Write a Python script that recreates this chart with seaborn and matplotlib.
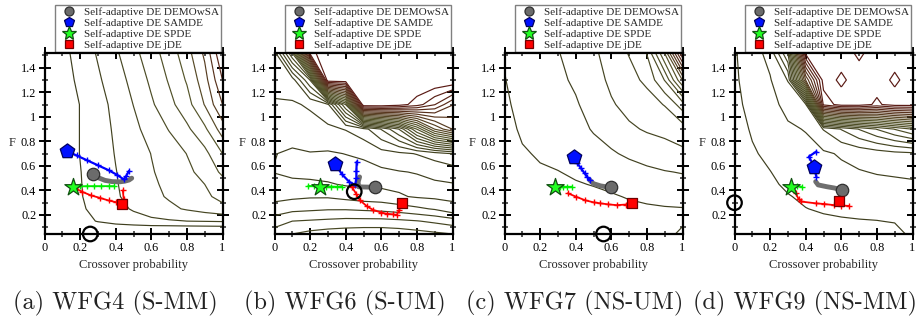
import numpy as np
import pandas as pd
import matplotlib
matplotlib.use("Agg")
import matplotlib.pyplot as plt
import seaborn as sns
from matplotlib.colors import LinearSegmentedColormap
from matplotlib.lines import Line2D
from matplotlib.ticker import MultipleLocator, FuncFormatter

# ---------------- data ----------------
CAPTIONS = ["(a) WFG4 (S-MM)", "(b) WFG6 (S-UM)", "(c) WFG7 (NS-UM)", "(d) WFG9 (NS-MM)"]
METHODS = ["Self-adaptive DE DEMOwSA", "Self-adaptive DE SAMDE",
           "Self-adaptive DE SPDE", "Self-adaptive DE jDE"]

# contour grid (crossover probability columns, F rows)
GRID_X = [0.0, 0.1, 0.2, 0.3, 0.4, 0.5, 0.6, 0.7, 0.8, 0.9, 1.0]
GRID_F = [0.045, 0.15, 0.25, 0.35, 0.45, 0.55, 0.7, 0.9, 1.1, 1.3, 1.52]

GRID_A = [
    [0, 0.1, 0.2, 0.0, -0.2, -0.4, -0.5, -0.6, -0.65, -0.65, -0.65],
    [0, 0.3, 0.7, 1.05, 1.35, 1.6, 1.8, 1.9, 2.0, 2.05, 2.1],
    [0, 0.4, 0.85, 1.3, 1.7, 2.1, 2.45, 2.8, 3.1, 3.4, 3.7],
    [0, 0.45, 0.93, 1.4, 1.88, 2.33, 2.75, 3.1, 3.45, 3.8, 4.3],
    [0, 0.47, 0.95, 1.45, 1.93, 2.4, 2.85, 3.2, 3.6, 4.0, 4.6],
    [0, 0.48, 0.97, 1.47, 1.97, 2.45, 2.92, 3.35, 3.8, 4.3, 5.2],
    [0, 0.5, 1.02, 1.5, 2.05, 2.5, 3.02, 3.5, 4.02, 4.7, 6.0],
    [0, 0.5, 1.02, 1.55, 2.15, 2.75, 3.4, 4.05, 4.8, 5.8, 7.5],
    [0, 0.5, 1.02, 1.6, 2.3, 3.02, 3.85, 4.7, 5.6, 7.05, 9.0],
    [0, 0.6, 1.2, 1.85, 2.55, 3.3, 4.2, 5.1, 6.1, 7.6, 10.0],
    [0, 0.7, 1.4, 2.1, 2.85, 3.7, 4.6, 5.45, 6.6, 8.2, 11.0],
]
GRID_B = [
    [4.5, 5.0, 5.3, 5.5, 5.6, 5.7, 5.7, 5.6, 5.4, 5.2, 5.0],
    [3.5, 4.0, 4.1, 4.2, 4.3, 4.3, 4.3, 4.2, 4.05, 3.8, 3.5],
    [2.4, 2.7, 2.8, 2.9, 2.9, 2.8, 2.7, 2.5, 2.2, 1.9, 1.3],
    [1.7, 1.8, 1.9, 1.9, 1.7, 1.5, 1.4, 1.1, 0.9, 0.8, 0.8],
    [1.3, 1.2, 1.2, 1.1, 0.9, 0.8, 0.8, 0.8, 0.75, 0.9, 0.95],
    [0.97, 0.8, 0.7, 0.6, 0.6, 0.6, 0.8, 0.95, 1.05, 1.2, 1.4],
    [1.03, 0.85, 0.95, 0.9, 1.02, 1.2, 1.6, 1.8, 2.05, 2.5, 3.05],
    [1.6, 1.5, 1.7, 1.8, 2.05, 2.6, 4.05, 6.05, 10.05, 14.05, 16.05],
    [1.9, 1.9, 2.1, 2.8, 8.05, 23, 23, 22.5, 21.5, 20.05, 18.05],
    [2.3, 2.5, 6.05, 23, 23, 23, 23, 23, 23, 23, 23],
    [2.6, 8.05, 21.5, 23, 23, 23, 23, 23, 23, 23, 23],
]
GRID_C = [
    [0.2, 0.3, 0.35, 0.4, 0.45, 0.5, 0.55, 0.6, 0.65, 0.7, 1.2],
    [0.2, 0.35, 0.4, 0.45, 0.5, 0.6, 0.65, 0.7, 0.75, 0.8, 0.85],
    [0.25, 0.4, 0.5, 0.55, 0.65, 0.7, 0.78, 0.85, 0.9, 0.95, 0.97],
    [0.3, 0.5, 0.6, 0.7, 0.8, 0.85, 0.93, 1.05, 1.15, 1.2, 1.25],
    [0.35, 0.6, 0.75, 0.85, 0.95, 1.03, 1.15, 1.3, 1.5, 1.6, 1.7],
    [0.4, 0.7, 0.9, 0.98, 1.1, 1.2, 1.4, 1.65, 1.8, 1.95, 2.05],
    [0.5, 0.9, 1.1, 1.2, 1.35, 1.55, 1.9, 2.15, 2.4, 2.6, 2.8],
    [0.65, 1.15, 1.3, 1.45, 1.6, 2.1, 2.4, 2.85, 3.1, 3.25, 3.5],
    [0.8, 1.35, 1.5, 1.65, 1.9, 2.4, 2.9, 3.3, 3.6, 4.05, 5.5],
    [0.95, 1.55, 1.7, 1.8, 2.15, 2.6, 3.2, 3.7, 4.2, 6.05, 10.05],
    [1.1, 1.75, 1.85, 1.95, 2.4, 2.8, 3.5, 4.05, 5.05, 9.05, 16.05],
]
GRID_D = [
    [0.6, 0.8, 0.9, 0.95, 0.7, 0.6, 0.6, 0.6, 0.65, 0.7, 1.2],
    [0.5, 0.7, 0.8, 0.85, 0.85, 0.85, 0.9, 0.95, 0.98, 1.05, 1.1],
    [0.4, 0.6, 0.7, 0.8, 0.98, 1.1, 1.2, 1.25, 1.3, 1.35, 1.4],
    [0.3, 0.55, 0.72, 0.95, 1.15, 1.3, 1.4, 1.5, 1.55, 1.6, 1.65],
    [0.3, 0.6, 0.85, 1.15, 1.3, 1.5, 1.6, 1.75, 1.8, 1.85, 1.9],
    [0.35, 0.75, 0.98, 1.3, 1.5, 1.65, 1.8, 1.95, 2.05, 2.1, 2.15],
    [0.45, 0.9, 1.2, 1.55, 1.7, 1.85, 2.1, 2.3, 2.5, 2.7, 2.8],
    [0.6, 1.1, 1.45, 1.85, 2.05, 3.05, 4.05, 5.05, 6.05, 7.05, 8.05],
    [0.75, 1.3, 1.7, 2.3, 2.8, 20.3, 21.5, 21.5, 20.8, 21.5, 21.5],
    [0.85, 1.45, 1.93, 3.05, 15.05, 21.5, 20.8, 21.5, 21.5, 20.8, 21.5],
    [0.9, 1.6, 2.3, 6.05, 21.3, 21.5, 21.5, 20.8, 21.5, 21.5, 21.5],
]
LEVEL_MAX = [11, 22, 16, 21]

# trajectories (x = crossover probability, F = scale factor)
A_DEMO_X = [0.274, 0.30, 0.34, 0.38, 0.42, 0.45, 0.475, 0.49]
A_DEMO_F = [0.535, 0.505, 0.482, 0.472, 0.47, 0.475, 0.485, 0.50]
A_SAMDE_X = [0.128, 0.18, 0.24, 0.30, 0.36, 0.41, 0.445, 0.46, 0.475]
A_SAMDE_F = [0.72, 0.685, 0.645, 0.605, 0.565, 0.525, 0.49, 0.52, 0.56]
A_SPDE_X = [0.162, 0.20, 0.24, 0.28, 0.32, 0.36, 0.39]
A_SPDE_F = [0.43, 0.433, 0.435, 0.435, 0.435, 0.435, 0.435]
A_JDE_X = [0.44, 0.445, 0.43, 0.40, 0.36, 0.31, 0.26, 0.21, 0.17]
A_JDE_F = [0.40, 0.33, 0.30, 0.305, 0.318, 0.34, 0.36, 0.39, 0.42]

B_DEMO_X = [0.478, 0.47, 0.472, 0.50, 0.53, 0.566]
B_DEMO_F = [0.51, 0.47, 0.43, 0.428, 0.427, 0.426]
B_SAMDE_X = [0.462, 0.46, 0.46, 0.453, 0.42, 0.38, 0.341]
B_SAMDE_F = [0.635, 0.56, 0.50, 0.445, 0.47, 0.53, 0.616]
B_SPDE_X = [0.19, 0.22, 0.257, 0.29, 0.32, 0.35, 0.378]
B_SPDE_F = [0.437, 0.435, 0.43, 0.432, 0.432, 0.43, 0.43]
B_JDE_X = [0.434, 0.46, 0.48, 0.52, 0.556, 0.60, 0.631, 0.665, 0.687, 0.70, 0.715]
B_JDE_F = [0.43, 0.37, 0.32, 0.27, 0.24, 0.22, 0.21, 0.205, 0.20, 0.24, 0.295]

C_DEMO_X = [0.478, 0.50, 0.54, 0.57, 0.597]
C_DEMO_F = [0.486, 0.455, 0.437, 0.43, 0.426]
C_SAMDE_X = [0.388, 0.41, 0.43, 0.45, 0.465, 0.478]
C_SAMDE_F = [0.67, 0.62, 0.58, 0.54, 0.51, 0.486]
C_SPDE_X = [0.285, 0.31, 0.33, 0.35, 0.378]
C_SPDE_F = [0.426, 0.43, 0.43, 0.43, 0.43]
C_JDE_X = [0.356, 0.40, 0.453, 0.50, 0.538, 0.58, 0.631, 0.68, 0.715]
C_JDE_F = [0.377, 0.35, 0.32, 0.303, 0.295, 0.287, 0.28, 0.285, 0.295]

D_DEMO_X = [0.456, 0.47, 0.52, 0.56, 0.606]
D_DEMO_F = [0.472, 0.445, 0.43, 0.42, 0.404]
D_SAMDE_X = [0.46, 0.455, 0.447, 0.418, 0.46]
D_SAMDE_F = [0.51, 0.55, 0.594, 0.676, 0.717]
D_SPDE_X = [0.319, 0.35, 0.38]
D_SPDE_F = [0.43, 0.433, 0.43]
D_JDE_X = [0.344, 0.36, 0.372, 0.456, 0.50, 0.561, 0.60, 0.643]
D_JDE_F = [0.377, 0.33, 0.31, 0.295, 0.29, 0.28, 0.277, 0.274]

# final markers per panel: DEMOwSA, SAMDE, SPDE, jDE
MARK_X = [[0.274, 0.128, 0.162, 0.437],
          [0.566, 0.341, 0.257, 0.715],
          [0.597, 0.388, 0.285, 0.715],
          [0.606, 0.447, 0.319, 0.587]]
MARK_F = [[0.535, 0.72, 0.43, 0.29],
          [0.426, 0.616, 0.43, 0.295],
          [0.426, 0.67, 0.426, 0.295],
          [0.404, 0.594, 0.43, 0.314]]
# best configuration (open black circle)
OPT_X = [0.257, 0.448, 0.556, 0.0]
OPT_F = [0.045, 0.39, 0.045, 0.30]

X_TICKS = [0, 0.2, 0.4, 0.6, 0.8, 1.0]
F_TICKS = [0.2, 0.4, 0.6, 0.8, 1.0, 1.2, 1.4]

# ---------------- style ----------------
sns.set_theme(style="white")
plt.rcParams['font.family'] = ['Liberation Serif', 'DejaVu Serif']
plt.rcParams['axes.unicode_minus'] = False

LINE_COL = ["#6e6e6e", "#0000ff", "#00ee00", "#ff0000"]
FACE_COL = ["#6b6b6b", "#0010ff", "#22ff22", "#ff0000"]
EDGE_COL = ["#303030", "#000060", "#105010", "#700000"]
MARKERS = ["o", "p", "*", "s"]
SIZES = [80, 120, 170, 62]
LEG_MS = [6.5, 7, 10, 6]
cmap = LinearSegmentedColormap.from_list("olive_maroon", ["#3e3e1e", "#55552a", "#5a1a14"])

fig = plt.figure(figsize=(9.16, 3.2), dpi=100)
W, H = 916.0, 320.0

grids = [GRID_A, GRID_B, GRID_C, GRID_D]
trajs = [
    [(A_DEMO_X, A_DEMO_F), (A_SAMDE_X, A_SAMDE_F), (A_SPDE_X, A_SPDE_F), (A_JDE_X, A_JDE_F)],
    [(B_DEMO_X, B_DEMO_F), (B_SAMDE_X, B_SAMDE_F), (B_SPDE_X, B_SPDE_F), (B_JDE_X, B_JDE_F)],
    [(C_DEMO_X, C_DEMO_F), (C_SAMDE_X, C_SAMDE_F), (C_SPDE_X, C_SPDE_F), (C_JDE_X, C_JDE_F)],
    [(D_DEMO_X, D_DEMO_F), (D_SAMDE_X, D_SAMDE_F), (D_SPDE_X, D_SPDE_F), (D_JDE_X, D_JDE_F)],
]

fmt = FuncFormatter(lambda v, p: "%g" % round(v, 2))

for i in range(4):
    left = 44.5 + 230 * i
    ax = fig.add_axes([left / W, (H - 234) / H, 178 / W, 181 / H])
    ax.set_facecolor("white")

    Z = np.array(grids[i], dtype=float)
    levels = np.arange(1, LEVEL_MAX[i] + 1)
    ax.contour(GRID_X, GRID_F, Z, levels=levels, cmap=cmap, linewidths=0.85, zorder=1)

    for k, (tx, tf) in enumerate(trajs[i]):
        df = pd.DataFrame({"x": tx, "F": tf})
        if k == 0:
            sns.lineplot(data=df, x="x", y="F", sort=False, estimator=None, ax=ax,
                         color=LINE_COL[k], lw=3.5, zorder=3, solid_capstyle="round")
        else:
            sns.lineplot(data=df, x="x", y="F", sort=False, estimator=None, ax=ax,
                         color=LINE_COL[k], lw=1.3 if k != 1 else 1.6, marker="+",
                         markersize=5, markeredgewidth=1.0, mec=LINE_COL[k], zorder=3)

    for k in range(4):
        mdf = pd.DataFrame({"x": [MARK_X[i][k]], "F": [MARK_F[i][k]]})
        sns.scatterplot(data=mdf, x="x", y="F", ax=ax, marker=MARKERS[k], s=SIZES[k],
                        color=FACE_COL[k], edgecolor=EDGE_COL[k], linewidth=0.9, zorder=5)

    odf = pd.DataFrame({"x": [OPT_X[i]], "F": [OPT_F[i]]})
    sns.scatterplot(data=odf, x="x", y="F", ax=ax, marker="o", s=110, facecolor="none",
                    edgecolor="black", linewidth=1.6, zorder=6, clip_on=False)

    ax.set_xlim(0, 1)
    ax.set_ylim(0.045, 1.52)
    ax.set_xticks(X_TICKS)
    ax.set_yticks(F_TICKS)
    ax.xaxis.set_minor_locator(MultipleLocator(0.1))
    ax.yaxis.set_minor_locator(MultipleLocator(0.1))
    ax.xaxis.set_major_formatter(fmt)
    ax.yaxis.set_major_formatter(fmt)
    ax.tick_params(which="major", direction="inout", length=8, width=1.4, top=True,
                   right=True, bottom=True, left=True, labelsize=8.8, pad=2, colors="black")
    ax.tick_params(which="minor", direction="inout", length=5, width=1.1, top=True,
                   right=True, bottom=True, left=True)
    for sp in ax.spines.values():
        sp.set_linewidth(1.6)
        sp.set_color("black")
        sp.set_zorder(7)

    ax.set_xlabel("Crossover probability", fontsize=9)
    ax.xaxis.set_label_coords(0.5, -0.17)
    ax.xaxis.label.set_va("center")
    ax.set_ylabel("F", fontsize=9, rotation=0)
    ax.yaxis.set_label_coords(-0.18, 0.505)
    ax.yaxis.label.set_va("center")
    ax.yaxis.label.set_ha("center")

    handles = [Line2D([0], [0], linestyle="none", marker=MARKERS[k],
                      markersize=LEG_MS[k], markerfacecolor=FACE_COL[k],
                      markeredgecolor=EDGE_COL[k], markeredgewidth=0.9) for k in range(4)]
    leg = ax.legend(handles, METHODS, loc="lower right", bbox_to_anchor=(1.0, 1.0),
                    frameon=True, fancybox=False, fontsize=8, handlelength=2.2,
                    handletextpad=0.25, borderpad=0.2, labelspacing=0.1,
                    borderaxespad=0.1, framealpha=1)
    leg.get_frame().set_edgecolor("#808080")
    leg.get_frame().set_linewidth(1.0)

    fig.text((115 + 230 * i) / W, (H - 303) / H, CAPTIONS[i], family="cmr10",
             fontsize=17.5, ha="center", va="center", color="#222222")

fig.savefig("out.png", dpi=100)
